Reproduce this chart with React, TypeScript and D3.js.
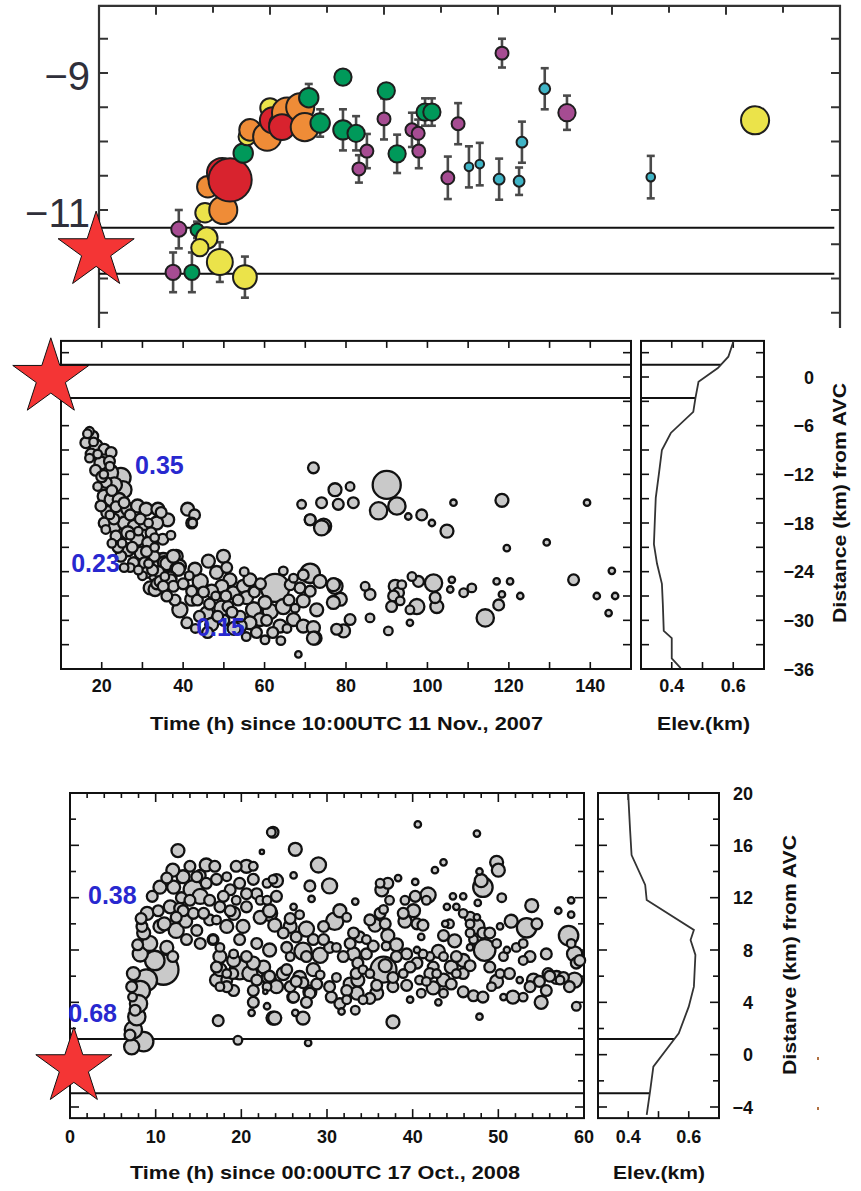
import React from "react";
import * as d3 from "d3";

const FONT = "'Liberation Sans', Arial, Helvetica, sans-serif";

// ---------------- Top panel (depth vs time, colored events) ----------------
const topTicksX = d3.range(1, 13);
const topTicksY = d3.range(-8.5, -12.51, -0.5);
const topLabelsY = [-9, -11];
const topRefLines = [-11.26, -11.93];
// [time unit, depth, size, error half-length, class]
const topEvents: [number, number, number, number, string][] = [
  [1.40, -11.28, 7, 0.28, "m"], [1.30, -11.91, 7, 0.29, "m"], [1.63, -11.91, 7, 0.29, "g"],
  [1.72, -11.29, 6, 0.12, "g"], [1.86, -11.04, 9, 0, "y"], [1.89, -11.41, 10, 0, "y"],
  [1.77, -11.55, 8, 0, "y"], [2.12, -11.76, 12, 0.29, "y"], [2.56, -11.98, 11, 0.3, "y"],
  [2.18, -11.0, 13, 0, "o"], [1.91, -10.66, 10, 0, "o"], [2.16, -10.46, 14, 0, "r"],
  [2.30, -10.56, 20, 0.05, "r"], [2.53, -10.17, 9, 0, "g"], [2.60, -9.93, 8, 0, "y"],
  [2.65, -9.83, 10, 0, "o"], [2.95, -9.93, 13, 0, "o"], [3.0, -9.51, 9, 0, "y"],
  [3.05, -9.69, 12, 0, "r"], [3.14, -9.73, 8, 0, "y"], [3.30, -9.58, 14, 0, "o"],
  [3.21, -9.79, 12, 0, "r"], [3.53, -9.50, 13, 0, "o"], [3.61, -9.79, 13, 0, "o"],
  [3.68, -9.36, 9, 0.2, "g"], [3.88, -9.73, 9, 0.2, "g"], [4.28, -9.06, 8, 0.1, "g"],
  [4.28, -9.83, 9, 0.3, "g"], [4.51, -9.88, 8, 0.25, "g"], [4.70, -10.14, 6, 0.25, "m"],
  [4.56, -10.40, 6, 0.2, "m"], [5.04, -9.26, 8, 0.05, "g"], [5.0, -9.67, 6, 0.3, "m"],
  [5.23, -10.18, 8, 0.28, "g"], [5.61, -10.14, 6, 0.25, "m"], [5.49, -9.83, 6, 0.25, "m"],
  [5.60, -9.88, 6, 0.2, "m"], [5.72, -9.57, 8, 0.2, "g"], [5.84, -9.57, 8, 0.2, "g"],
  [7.07, -8.71, 6, 0.21, "m"], [7.82, -9.23, 5, 0.30, "c"], [8.21, -9.58, 8, 0.25, "m"],
  [11.51, -9.69, 13, 0, "y"], [6.30, -9.74, 6, 0.30, "m"], [7.42, -10.01, 5, 0.30, "c"],
  [6.12, -10.53, 6, 0.31, "m"], [6.49, -10.37, 4, 0.30, "c"], [6.68, -10.33, 4, 0.31, "c"],
  [7.02, -10.55, 5, 0.30, "c"], [7.37, -10.58, 5, 0.20, "c"], [9.68, -10.52, 4, 0.31, "c"],
];
const topColors: Record<string, string> = {
  m: "#a64c92", g: "#00995a", y: "#ebe34a", o: "#ef8c37", r: "#d8232e", c: "#3fb4c6",
};

// ---------------- Middle panel (2007) ----------------
const midTicksX = d3.range(20, 141, 10);
const midLabelsX = d3.range(20, 141, 20);
const midTicksY = d3.range(3, -36, -3);
const midLabelsY = d3.range(0, -37, -6);
const midRefLines = [1.5, -2.6];
const midElevTicks = [0.4, 0.5, 0.6];
const midElevLabels = [0.4, 0.6];
const midVelLabels: [string, number, number][] = [["0.35", 28.2, -11.9], ["0.23", 12.5, -24.1], ["0.15", 43.2, -31.9]];
// [elevation km, distance km]
const midProfile: [number, number][] = [
  [0.6, 4.45], [0.6, 4.3], [0.584, 2.5], [0.55, 1.1], [0.487, -0.6], [0.477, -2.6], [0.47, -4.3],
  [0.397, -6.9], [0.368, -9], [0.358, -12], [0.348, -14.9], [0.345, -17.7], [0.342, -20.6],
  [0.352, -23], [0.368, -25.5], [0.371, -28], [0.374, -31.3], [0.4, -32.2], [0.4, -34.7], [0.429, -35.9],
];
// [time h, distance km, amplitude]
const midEvents: [number, number, number][] = [
  [17.0, -6.7, 4], [17.8, -7.3, 5], [16.1, -8.1, 5], [18.6, -8.5, 6], [17.4, -9.5, 5], [20.6, -8.9, 5],
  [22.3, -9.3, 5], [21.9, -10.4, 5], [19.8, -10.6, 6], [24.7, -12.4, 9], [21.9, -11.8, 8], [23.1, -13.3, 7],
  [25.2, -13.9, 8], [21.1, -13.0, 5], [20.6, -14.7, 6], [22.3, -15.1, 6], [24.3, -15.1, 6], [19.8, -15.9, 5],
  [21.5, -16.7, 6], [24.3, -16.7, 6], [26.4, -16.3, 6], [28.8, -15.9, 6], [30.9, -16.3, 6], [33.8, -16.3, 6],
  [36.2, -17.6, 6], [34.6, -16.7, 5], [20.6, -18.0, 5], [23.1, -18.4, 6], [25.6, -18.0, 6], [28.0, -18.4, 6],
  [30.5, -18.2, 5], [32.1, -19.2, 5], [26.4, -19.2, 6], [23.5, -19.6, 5], [28.8, -20.0, 6], [31.3, -20.4, 5],
  [26.4, -21.3, 6], [29.7, -21.7, 6], [24.7, -22.1, 5], [28.0, -22.9, 5], [30.5, -22.9, 5], [32.9, -22.1, 5],
  [35.4, -22.9, 6], [38.3, -22.1, 6], [39.1, -23.3, 6], [41.1, -16.3, 6], [42.8, -17.0, 5], [42.3, -18.0, 4],
  [22, -11, 4], [23, -17.5, 5], [27, -17, 5], [25, -20.5, 4], [27.5, -21, 5], [29, -19, 4], [31, -21.5, 5],
  [33, -21, 4], [34, -24, 5], [36, -23, 6], [37, -25, 5], [30, -24.5, 4], [27, -23.5, 4], [33.5, -25.5, 5],
  [31.9, -26, 6], [34.3, -25.2, 5], [31.0, -24.1, 5], [37.6, -22.1, 6], [38.4, -23.7, 6], [27.8, -22.9, 5],
  [33.5, -18.0, 6], [42.1, -18.0, 5], [74.5, -18.4, 7], [71.2, -17.6, 5], [32.3, -20.0, 6], [35.1, -22.9, 9],
  [38.8, -23.7, 6], [36.8, -24.8, 6], [33.1, -24.4, 6], [33.1, -26.2, 6], [37.6, -25.8, 5],
  [35.1, -25.8, 5], [42.9, -23.7, 6], [46.2, -22.7, 6], [49.9, -22.1, 6], [44.2, -25.2, 7], [42.1, -26.4, 5],
  [48.2, -24.1, 6], [50.7, -23.5, 5], [51.5, -25.0, 6], [49.5, -25.8, 6], [47.0, -26.4, 6], [42.1, -27.4, 6],
  [39.2, -28.7, 7], [40.9, -30.3, 5], [45.8, -29.1, 6], [49.5, -28.5, 7], [52.3, -26.6, 6], [54.8, -25.8, 6],
  [56.4, -25.0, 6], [55.6, -27.2, 6], [57.3, -28.7, 7], [58.9, -29.9, 6], [56.4, -30.3, 6], [60.1, -27.8, 6],
  [62.6, -26.0, 13], [61.4, -28.9, 7], [64.6, -28.3, 7], [64.6, -23.9, 4], [67.1, -24.8, 4], [66.3, -25.6, 5],
  [69.5, -24.4, 5], [71.2, -24.2, 9], [68.7, -26.0, 5], [71.2, -26.4, 5], [73.6, -25.2, 6], [76.9, -25.6, 6],
  [69.5, -27.6, 6], [72.8, -28.7, 6], [67.1, -29.9, 6], [69.5, -30.7, 6], [72.0, -30.9, 6], [72.4, -32.2, 6],
  [77.7, -31.1, 5], [60.1, -32.4, 4], [68.3, -34.2, 3], [63.8, -30.7, 6], [54.0, -30.7, 6],
  [44, -29.5, 5], [47, -30.5, 6], [50, -30, 5], [52.5, -31, 6], [54, -29.5, 5], [51, -28.3, 5],
  [72.0, -11.2, 5], [69.1, -15.7, 4], [74.0, -15.5, 5], [71.2, -17.6, 5], [74.0, -18.6, 7], [72.0, -32.2, 6],
  [77.3, -13.9, 6], [81.0, -13.5, 4], [78.1, -15.7, 5], [81.8, -15.5, 5], [90.0, -13.3, 13], [88.0, -16.5, 8],
  [92.5, -15.9, 8], [95.3, -17.2, 3], [98.6, -17.0, 5], [101.1, -18.0, 3], [104.8, -19.0, 6], [106.4, -15.5, 3],
  [118.3, -15.2, 6], [139.2, -15.5, 3], [129.3, -20.4, 3], [119.5, -21.1, 3], [77.3, -25.8, 7], [78.6, -27.4, 6],
  [76.9, -27.8, 6], [81.0, -29.9, 5], [79.4, -31.3, 6], [84.7, -25.8, 4], [85.9, -26.8, 5], [85.9, -29.7, 4],
  [90.4, -31.3, 4], [92.1, -25.8, 6], [92.9, -26.6, 5], [91.7, -27.0, 5], [93.7, -25.6, 4], [96.2, -24.6, 4],
  [97.8, -25.2, 5], [91.2, -28.3, 5], [93.3, -27.6, 4], [95.7, -28.7, 4], [97.4, -28.3, 7], [101.5, -25.4, 8],
  [101.9, -27.2, 5], [102.3, -28.3, 6], [95.7, -30.3, 3], [106.0, -25.0, 3], [105.6, -26.2, 3], [108.9, -26.6, 4],
  [110.9, -26.0, 4], [114.2, -29.7, 8], [117.0, -25.2, 3], [120.3, -25.2, 3], [117.5, -28.1, 5], [118.3, -26.8, 3],
  [122.8, -27.0, 3], [135.9, -25.0, 5], [145.3, -23.9, 3], [141.6, -27.0, 3], [146.1, -27.0, 3], [144.5, -29.1, 3],
  [16.5, -7.0, 4], [18.0, -8.0, 4], [19.0, -9.5, 4], [17.0, -10.0, 4], [18.5, -11.5, 5], [20.0, -12.3, 5],
  [19.0, -13.5, 4], [20.5, -12.0, 4], [22.5, -14.0, 5], [23.5, -16.0, 5], [25.5, -15.5, 5], [22.0, -17.0, 4],
  [21.0, -18.8, 4], [22.5, -20.5, 4], [24.0, -21.0, 5], [25.5, -23.5, 4], [27.0, -19.5, 4], [29.5, -17.5, 5],
  [31.5, -18.0, 4], [33.0, -19.8, 4], [35.0, -20.0, 5], [37.0, -19.5, 4], [29.0, -23.8, 4], [31.5, -23.0, 4],
  [35.5, -24.6, 4], [32.5, -23.8, 5], [40.0, -25.5, 5], [41.5, -24.5, 4], [43.5, -27.5, 5], [45.0, -26.5, 5],
  [46.5, -28.0, 5], [48.0, -27.0, 4], [50.5, -27.0, 5], [52.0, -29.0, 5], [53.5, -27.5, 5], [55.0, -24.0, 4],
  [57.5, -26.5, 5], [59.0, -25.5, 5], [60.5, -30.0, 5], [62.0, -31.5, 5], [64.0, -32.5, 4], [66.0, -27.5, 5],
  [67.5, -28.5, 4], [65.5, -31.0, 4], [58.0, -31.5, 5], [55.5, -32.0, 4], [48.5, -29.5, 5], [46.0, -31.5, 5],
  [43.0, -31.0, 4], [38.0, -27.5, 5], [36.0, -27.0, 5],
];

// ---------------- Bottom panel (2008) ----------------
const botTicksX = d3.range(2, 60, 2);
const botLabelsX = d3.range(0, 61, 10);
const botTicksY = d3.range(-4, 20, 2);
const botLabelsY = d3.range(20, -5, -4);
const botRefLines = [1.2, -2.95];
const botElevTicks = [0.4, 0.5, 0.6];
const botElevLabels = [0.4, 0.6];
const botVelLabels: [string, number, number][] = [["0.38", 2.1, 11.5], ["0.68", -0.2, 2.5]];
const botProfile: [number, number][] = [
  [0.4, 20], [0.4, 19.85], [0.406, 17.2], [0.411, 15.26], [0.456, 12.97], [0.461, 11.82], [0.617, 9.53],
  [0.606, 8.77], [0.622, 7.62], [0.617, 5.2], [0.6, 3.67], [0.567, 1.63], [0.55, 1.12], [0.483, -0.92],
  [0.472, -2.83], [0.461, -4.6],
];
const botEvents: [number, number, number][] = [
  [23.5, 17.0, 4], [12.6, 15.6, 6], [22.4, 15.5, 2],
  [7.2, 0.6, 7], [8.6, 1.0, 9], [7.4, 1.9, 8], [7.8, 2.9, 8], [8.0, 3.9, 8], [8.2, 4.9, 9], [8.9, 5.7, 10],
  [10.9, 6.5, 14], [9.9, 7.2, 9], [8.2, 7.7, 7], [7.4, 6.2, 6], [7.2, 5.2, 5], [8.6, 9.3, 6], [9.3, 8.5, 7],
  [11.3, 8.2, 6], [12.4, 9.5, 7], [10.5, 9.8, 6], [8.4, 9.8, 5], [9.0, 10.8, 6], [11.7, 11.3, 6], [10.3, 11.0, 5],
  [12.1, 12.8, 6], [13.2, 13.6, 6], [14.4, 12.6, 9], [15.2, 12.1, 7], [15.9, 14.5, 6], [15.2, 13.7, 5],
  [14.0, 14.4, 5], [16.9, 14.4, 5], [17.1, 13.4, 5], [18.7, 12.6, 5], [19.4, 14.4, 5], [20.6, 14.4, 6],
  [21.4, 13.4, 5], [21.8, 12.3, 5], [23.0, 13.1, 4], [23.7, 13.4, 4], [16.3, 11.8, 5], [17.5, 11.3, 5],
  [19.1, 10.8, 6], [20.6, 11.3, 5], [22.2, 10.5, 6], [23.3, 11.0, 6], [20.2, 9.8, 6], [18.3, 9.8, 6],
  [16.3, 10.3, 5], [14.4, 10.8, 5], [14.8, 9.5, 5], [13.6, 8.8, 5], [15.2, 8.5, 5], [16.7, 8.8, 5],
  [17.5, 7.5, 6], [19.1, 7.2, 6], [19.8, 6.5, 9], [21.0, 6.2, 7], [22.6, 6.7, 6], [23.3, 5.7, 6], [17.1, 5.7, 6],
  [18.3, 5.7, 5], [19.1, 4.9, 5], [21.4, 4.9, 5], [22.8, 4.8, 2], [17.3, 2.6, 5], [21.2, 3.2, 3], [23.0, 3.7, 3],
  [23.7, 2.8, 6], [19.6, 1.1, 4], [17.5, 8.2, 4],
  [17.5, 6.5, 6], [19.0, 6.2, 5], [21.4, 7.0, 6], [23.0, 5.9, 5], [25.3, 6.5, 5], [27.2, 5.5, 5], [28.0, 4.7, 5],
  [18.3, 5.2, 5], [21.4, 4.0, 5], [26.0, 4.4, 5],
  [7.0, 1.5, 5], [7.6, 3.4, 5], [7.3, 4.4, 4], [7.9, 8.4, 5], [8.3, 10.4, 5], [9.6, 12.1, 5], [10.5, 12.8, 6],
  [11.3, 13.5, 5], [12.0, 14.1, 6], [11.0, 10.0, 6], [12.8, 11.2, 5], [13.5, 10.2, 6], [12.0, 7.5, 5], [13.0, 12.0, 5],
  [23.7, 17.0, 5], [26.3, 15.7, 6], [29.0, 14.5, 7], [26.1, 13.7, 3], [24.1, 13.3, 6], [28.0, 12.9, 5],
  [30.3, 12.9, 7], [24.1, 12.1, 5], [28.2, 11.9, 3], [26.1, 11.3, 3], [23.3, 10.8, 7], [23.9, 9.9, 6],
  [25.7, 9.8, 6], [27.6, 9.6, 7], [29.6, 9.8, 5], [30.9, 10.2, 8], [31.5, 11.0, 6], [32.3, 10.5, 4],
  [23.3, 8.0, 6], [25.3, 8.2, 5], [27.2, 7.9, 8], [29.2, 7.6, 7], [30.3, 8.2, 5], [28.4, 8.8, 5], [26.4, 9.0, 5],
  [24.9, 6.2, 6], [26.8, 5.9, 6], [28.4, 6.5, 6], [28.8, 5.4, 5], [24.1, 5.2, 6], [25.7, 5.2, 5], [28.0, 4.8, 6],
  [26.1, 4.4, 5], [23.9, 2.8, 6], [27.2, 2.8, 6], [26.3, 3.2, 3], [27.8, 0.9, 3], [30.5, 4.4, 5], [31.5, 3.9, 5],
  [31.7, 3.3, 3], [33.3, 3.4, 4], [31.1, 5.9, 4], [32.7, 5.4, 6], [33.6, 5.7, 6], [33.5, 4.7, 6], [32.3, 4.9, 5],
  [34.2, 6.5, 4], [33.1, 7.7, 6], [34.6, 7.7, 5], [33.6, 7.0, 5], [32.7, 8.5, 5], [33.8, 9.0, 5], [35.0, 10.3, 5],
  [35.6, 9.9, 6], [36.2, 10.8, 5], [36.6, 11.1, 4], [36.8, 10.0, 5], [37.1, 9.1, 6], [38.1, 8.4, 6],
  [36.6, 6.5, 12], [36.8, 6.8, 6], [35.8, 5.3, 5], [37.7, 5.2, 5], [35.8, 4.7, 6], [37.7, 2.5, 6],
  [36.4, 12.6, 6], [37.1, 13.1, 5], [38.3, 13.5, 3], [33.3, 11.7, 3], [39.1, 11.8, 4], [40.3, 12.1, 5],
  [40.1, 11.0, 6], [39.1, 10.2, 6], [40.5, 10.0, 5], [41.2, 9.9, 5], [41.0, 9.0, 3], [41.8, 12.2, 7],
  [40.3, 13.2, 3], [40.6, 17.6, 3], [42.6, 14.1, 3], [43.6, 14.7, 3], [44.0, 11.3, 3], [44.7, 12.1, 3],
  [43.8, 10.0, 3], [43.6, 9.1, 5], [44.9, 8.7, 6], [45.9, 12.1, 3], [40.5, 8.0, 3], [39.3, 7.7, 5],
  [40.5, 7.0, 5], [42.0, 7.5, 4], [43.0, 7.9, 6], [42.4, 6.7, 5], [40.8, 5.7, 4], [39.3, 5.3, 5], [41.6, 5.6, 4],
  [42.8, 6.2, 4], [43.6, 5.7, 6], [42.4, 5.1, 6], [41.0, 4.7, 4], [39.7, 4.2, 3], [43.0, 4.0, 3], [44.5, 6.7, 6],
  [45.9, 7.2, 6], [45.9, 6.2, 5], [46.7, 6.8, 5], [44.5, 5.4, 5], [45.9, 4.8, 5], [47.1, 4.5, 5], [48.2, 4.4, 5],
  [47.8, 2.9, 3], [47.5, 16.9, 3], [48.2, 12.8, 9], [48.0, 13.3, 6], [49.8, 14.7, 6], [50.0, 14.1, 6],
  [47.8, 14.0, 3], [47.6, 11.6, 3], [46.7, 10.5, 5], [47.5, 9.8, 7], [48.2, 9.3, 5], [46.7, 8.2, 3],
  [48.4, 8.0, 10], [49.0, 6.7, 5], [50.2, 9.8, 3], [50.4, 12.0, 4], [49.8, 5.6, 6], [50.2, 6.2, 4],
  [49.2, 5.2, 4], [50.6, 4.4, 3], [51.0, 8.0, 3], [51.5, 10.2, 6], [51.7, 4.4, 6], [52.5, 5.7, 3], [52.1, 8.2, 4],
  [53.3, 9.7, 9], [53.9, 11.4, 6], [54.5, 10.0, 5], [53.7, 7.5, 5], [54.1, 5.7, 6], [54.8, 5.6, 5], [55.6, 7.7, 5],
  [55.8, 6.2, 5], [55.6, 4.9, 5], [55.0, 4.0, 6], [56.8, 5.9, 6], [57.6, 5.9, 5], [57.0, 11.0, 3], [58.2, 9.1, 9],
  [58.5, 10.7, 3], [58.5, 11.8, 3], [58.9, 7.7, 7], [58.9, 5.7, 7], [59.1, 7.0, 5], [59.1, 3.7, 4],
  [25.7, 10.4, 5], [26.8, 10.7, 4], [24.9, 9.3, 5], [27.6, 7.5, 5], [29.6, 8.8, 5], [25.7, 7.5, 4], [23.3, 6.0, 5],
  [26.4, 5.6, 5], [29.2, 6.1, 4], [27.6, 4.0, 5], [30.3, 5.2, 5], [32.3, 4.2, 4], [33.4, 6.2, 5], [34.6, 8.8, 4],
  [33.1, 9.3, 5], [31.9, 7.5, 5], [31.1, 8.2, 4], [35.4, 8.3, 5], [36.9, 8.3, 4], [38.1, 7.5, 5], [38.9, 6.2, 4],
  [37.7, 5.9, 5], [35.0, 6.2, 4], [35.0, 4.3, 5], [34.2, 4.2, 4], [39.7, 6.7, 5], [41.2, 7.7, 4], [42.0, 6.2, 5],
  [43.6, 7.5, 4], [45.1, 7.5, 5], [43.6, 4.7, 4], [45.1, 6.2, 4], [46.7, 10.0, 4], [47.5, 10.5, 3], [47.1, 8.8, 4],
  [49.0, 9.3, 5], [49.8, 8.5, 4], [50.6, 7.5, 4], [51.3, 6.2, 5], [52.9, 8.5, 4], [52.9, 7.2, 4], [53.7, 5.2, 5],
  [52.9, 4.4, 4], [56.0, 6.0, 5], [57.2, 5.7, 4], [58.3, 5.2, 5], [58.5, 8.5, 4], [59.5, 7.2, 5], [41.6, 11.8, 4],
  [38.9, 10.8, 5], [37.3, 11.8, 4], [36.2, 13.1, 4], [45.1, 11.3, 3], [45.9, 10.8, 4], [44.3, 10.0, 4], [46.7, 9.3, 4],
  [14.0, 11.8, 5], [13.2, 11.0, 5], [12.4, 10.5, 5], [15.6, 10.8, 5], [17.1, 10.3, 4], [18.7, 11.0, 5],
  [19.4, 11.8, 4], [20.6, 12.3, 5], [22.2, 11.8, 4], [17.9, 12.1, 5], [15.9, 13.1, 5], [14.8, 13.6, 5],
  [18.3, 13.6, 4], [19.8, 13.1, 5], [21.4, 14.4, 4], [23.0, 11.8, 4], [16.7, 8.8, 4], [19.8, 8.8, 5],
  [21.8, 8.5, 5], [19.1, 7.7, 4], [20.6, 7.5, 5], [17.1, 6.7, 5], [18.3, 6.2, 4], [21.8, 5.7, 5], [23.0, 5.2, 4],
  [17.5, 5.2, 4],
];

const scatterFill = "#c9c9c9";
const scatterStroke = "#111";
const velColor = "#2828cf";

function starPath(cx: number, cy: number, R: number) {
  const r = R * 0.382;
  const pts: string[] = [];
  for (let i = 0; i < 10; i++) {
    const a = (Math.PI / 5) * i;
    const rr = i % 2 === 0 ? R : r;
    pts.push(`${cx + rr * Math.sin(a)},${cy - rr * Math.cos(a)}`);
  }
  return "M" + pts.join("L") + "Z";
}

function elevAt(profile: [number, number][], d: number) {
  for (let i = 0; i < profile.length - 1; i++) {
    const [e0, d0] = profile[i];
    const [e1, d1] = profile[i + 1];
    if ((d <= d0 && d >= d1) || (d >= d0 && d <= d1)) {
      const t = d0 === d1 ? 0 : (d - d0) / (d1 - d0);
      return e0 + t * (e1 - e0);
    }
  }
  return profile[profile.length - 1][0];
}

export default function App() {
  const txS = d3.scaleLinear().domain([0, 13]).range([99, 840]);
  const tyS = d3.scaleLinear().domain([-9, -11]).range([73, 210]);
  const mxS = d3.scaleLinear().domain([10, 150]).range([61, 631]);
  const myS = d3.scaleLinear().domain([0, -36]).range([377, 669]);
  const meS = d3.scaleLinear().domain([0.3, 0.7]).range([641, 764]);
  const bxS = d3.scaleLinear().domain([0, 60]).range([70, 584]);
  const byS = d3.scaleLinear().domain([20, -4]).range([793, 1107]);
  const beS = d3.scaleLinear().domain([0.3, 0.7]).range([598, 719]);
  const rS = d3.scaleLinear().domain([0, 10]).range([0, 10.8]);
  const rTop = d3.scaleLinear().domain([0, 10]).range([0, 10.8]);

  const topTop = tyS(-8.02);
  const topBottom = 328;
  const midTop = myS(4.45), midBot = myS(-36);
  const botTop = byS(20), botBot = byS(-4.85);

  const lineGen = (xs: d3.ScaleLinear<number, number>, ys: d3.ScaleLinear<number, number>) =>
    d3.line<[number, number]>().x((p) => xs(p[0])).y((p) => ys(p[1]));

  const midSorted = [...midEvents].sort((a, b) => b[2] - a[2]);
  const botSorted = [...botEvents].sort((a, b) => b[2] - a[2]);

  const tickStyle = { stroke: "#111", strokeWidth: 1.6 };
  const frameStyle = { fill: "none", stroke: "#111", strokeWidth: 2 };
  const labelStyle: React.CSSProperties = { fontFamily: FONT, fontWeight: 700, fontSize: 18, fill: "#111" };
  const titleStyle: React.CSSProperties = { fontFamily: FONT, fontWeight: 700, fontSize: 19, fill: "#111" };
  const velStyle: React.CSSProperties = { fontFamily: FONT, fontWeight: 700, fontSize: 25, fill: velColor };

  return (
    <svg width={861} height={1191} style={{ position: "absolute", left: 0, top: 0, background: "#fff" }}>
      <rect x={0} y={0} width={861} height={1191} fill="#fff" />

      {/* ================= TOP PANEL ================= */}
      <g>
        <path d={`M${txS(0)},${topBottom}V${topTop}H${txS(13)}V${topBottom}`} fill="none" stroke="#333" strokeWidth={2.2} />
        {topTicksX.map((v) => (
          <line key={"ttx" + v} x1={txS(v)} x2={txS(v)} y1={topTop} y2={topTop + (v % 2 === 1 ? 9 : 7)} stroke="#333" strokeWidth={2} />
        ))}
        {topTicksY.map((v) => (
          <g key={"tty" + v}>
            <line x1={txS(0)} x2={txS(0) + 9} y1={tyS(v)} y2={tyS(v)} stroke="#333" strokeWidth={2} />
            <line x1={txS(13)} x2={txS(13) - 9} y1={tyS(v)} y2={tyS(v)} stroke="#333" strokeWidth={2} />
          </g>
        ))}
        {topLabelsY.map((v) => (
          <text key={"tly" + v} x={90} y={tyS(v) + 17} textAnchor="end" style={{ fontFamily: FONT, fontSize: 40, fill: "#2f2f3a" }}>
            {"\u2212" + Math.abs(v)}
          </text>
        ))}
        {topRefLines.map((v) => (
          <line key={"trl" + v} x1={txS(0)} x2={txS(12.9)} y1={tyS(v)} y2={tyS(v)} stroke="#111" strokeWidth={2} />
        ))}
        {topEvents.filter((e) => e[3] > 0).map((e, i) => {
          const x = txS(e[0]);
          const y0 = tyS(e[1] + e[3]);
          const y1 = tyS(e[1] - e[3]);
          return (
            <g key={"teb" + i} stroke="#4a4a4a" strokeWidth={2.6}>
              <line x1={x} x2={x} y1={y0} y2={y1} />
              <line x1={x - 4} x2={x + 4} y1={y0} y2={y0} />
              <line x1={x - 4} x2={x + 4} y1={y1} y2={y1} />
            </g>
          );
        })}
        {topEvents.map((e, i) => (
          <circle key={"tev" + i} cx={txS(e[0])} cy={tyS(e[1])} r={rTop(e[2])} fill={topColors[e[4]]} stroke="#1e1e1e" strokeWidth={2} />
        ))}
        <path d={starPath(txS(-0.05), tyS(-11.6), 40)} fill="#f43535" stroke="#111" strokeWidth={1} />
      </g>

      {/* ================= MIDDLE PANEL ================= */}
      <g>
        <rect x={0} y={329} width={861} height={440} fill="#fff" />
        <rect x={mxS(10)} y={midTop} width={mxS(150) - mxS(10)} height={midBot - midTop} {...frameStyle} />
        {midTicksX.map((v) => (
          <g key={"mtx" + v}>
            <line x1={mxS(v)} x2={mxS(v)} y1={midBot} y2={midBot - 7} {...tickStyle} />
            <line x1={mxS(v)} x2={mxS(v)} y1={midTop} y2={midTop + 7} {...tickStyle} />
          </g>
        ))}
        {midTicksY.map((v) => (
          <g key={"mty" + v}>
            <line x1={mxS(10)} x2={mxS(10) + 8} y1={myS(v)} y2={myS(v)} {...tickStyle} />
            <line x1={mxS(150)} x2={mxS(150) - 8} y1={myS(v)} y2={myS(v)} {...tickStyle} />
            <line x1={meS(0.3)} x2={meS(0.3) + 8} y1={myS(v)} y2={myS(v)} {...tickStyle} />
            <line x1={meS(0.7)} x2={meS(0.7) - 8} y1={myS(v)} y2={myS(v)} {...tickStyle} />
          </g>
        ))}
        {midLabelsX.map((v) => (
          <text key={"mlx" + v} x={mxS(v)} y={692} textAnchor="middle" style={labelStyle}>{v}</text>
        ))}
        {midRefLines.map((v) => (
          <g key={"mrl" + v}>
            <line x1={mxS(10)} x2={mxS(150)} y1={myS(v)} y2={myS(v)} stroke="#111" strokeWidth={2} />
            <line x1={meS(0.3)} x2={meS(elevAt(midProfile, v))} y1={myS(v)} y2={myS(v)} stroke="#111" strokeWidth={2} />
          </g>
        ))}
        {midSorted.map((e, i) => (
          <circle key={"mev" + i} cx={mxS(e[0])} cy={myS(e[1])} r={rS(e[2])} fill={scatterFill} stroke={scatterStroke} strokeWidth={2.3} />
        ))}
        {midVelLabels.map(([s, t, d]) => (
          <text key={"mvl" + s} x={mxS(t)} y={myS(d)} style={velStyle}>{s}</text>
        ))}
        <rect x={meS(0.3)} y={midTop} width={meS(0.7) - meS(0.3)} height={midBot - midTop} {...frameStyle} />
        {midElevTicks.map((v) => (
          <g key={"met" + v}>
            <line x1={meS(v)} x2={meS(v)} y1={midBot} y2={midBot - 7} {...tickStyle} />
            <line x1={meS(v)} x2={meS(v)} y1={midTop} y2={midTop + 7} {...tickStyle} />
          </g>
        ))}
        {midElevLabels.map((v) => (
          <text key={"mel" + v} x={meS(v)} y={692} textAnchor="middle" style={labelStyle}>{v}</text>
        ))}
        <path d={lineGen(meS, myS)(midProfile) || ""} fill="none" stroke="#333" strokeWidth={1.8} />
        {midLabelsY.map((v) => (
          <text key={"mly" + v} x={814} y={myS(v) + 6.5} textAnchor="end" style={labelStyle}>
            {v === 0 ? "0" : "\u2212" + Math.abs(v)}
          </text>
        ))}
        <text x={150} y={730} textLength={393} lengthAdjust="spacingAndGlyphs" style={titleStyle}>
          Time (h) since 10:00UTC 11 Nov., 2007
        </text>
        <text x={657} y={730} textLength={93} lengthAdjust="spacingAndGlyphs" style={titleStyle}>Elev.(km)</text>
        <text transform="translate(846,503) rotate(-90)" x={-120} y={0} textLength={240} lengthAdjust="spacingAndGlyphs" style={titleStyle}>
          Distance (km) from AVC
        </text>
        <path d={starPath(mxS(7.5), myS(-0.1), 40)} fill="#f43535" stroke="#111" strokeWidth={1} />
      </g>

      {/* ================= BOTTOM PANEL ================= */}
      <g>
        <rect x={bxS(0)} y={botTop} width={bxS(60) - bxS(0)} height={botBot - botTop} {...frameStyle} />
        {botTicksX.map((v) => {
          const len = v % 10 === 0 ? 9 : 5;
          return (
            <g key={"btx" + v}>
              <line x1={bxS(v)} x2={bxS(v)} y1={botBot} y2={botBot - len} {...tickStyle} />
              <line x1={bxS(v)} x2={bxS(v)} y1={botTop} y2={botTop + len} {...tickStyle} />
            </g>
          );
        })}
        {botTicksY.map((v) => {
          const len = v % 4 === 0 ? 9 : 6;
          return (
            <g key={"bty" + v}>
              <line x1={bxS(0)} x2={bxS(0) + len} y1={byS(v)} y2={byS(v)} {...tickStyle} />
              <line x1={bxS(60)} x2={bxS(60) - len} y1={byS(v)} y2={byS(v)} {...tickStyle} />
              <line x1={beS(0.3)} x2={beS(0.3) + len} y1={byS(v)} y2={byS(v)} {...tickStyle} />
              <line x1={beS(0.7)} x2={beS(0.7) - len} y1={byS(v)} y2={byS(v)} {...tickStyle} />
            </g>
          );
        })}
        {botLabelsX.map((v) => (
          <text key={"blx" + v} x={bxS(v)} y={1143} textAnchor="middle" style={labelStyle}>{v}</text>
        ))}
        {botRefLines.map((v) => (
          <g key={"brl" + v}>
            <line x1={bxS(0)} x2={bxS(60)} y1={byS(v)} y2={byS(v)} stroke="#111" strokeWidth={2} />
            <line x1={beS(0.3)} x2={beS(elevAt(botProfile, v))} y1={byS(v)} y2={byS(v)} stroke="#111" strokeWidth={2} />
          </g>
        ))}
        {botSorted.map((e, i) => (
          <circle key={"bev" + i} cx={bxS(e[0])} cy={byS(e[1])} r={rS(e[2])} fill={scatterFill} stroke={scatterStroke} strokeWidth={2.3} />
        ))}
        {botVelLabels.map(([s, t, d]) => (
          <text key={"bvl" + s} x={bxS(t)} y={byS(d)} style={velStyle}>{s}</text>
        ))}
        <rect x={beS(0.3)} y={botTop} width={beS(0.7) - beS(0.3)} height={botBot - botTop} {...frameStyle} />
        {botElevTicks.map((v) => (
          <g key={"bet" + v}>
            <line x1={beS(v)} x2={beS(v)} y1={botBot} y2={botBot - 7} {...tickStyle} />
            <line x1={beS(v)} x2={beS(v)} y1={botTop} y2={botTop + 7} {...tickStyle} />
          </g>
        ))}
        {botElevLabels.map((v) => (
          <text key={"bel" + v} x={beS(v)} y={1143} textAnchor="middle" style={labelStyle}>{v}</text>
        ))}
        <path d={lineGen(beS, byS)(botProfile) || ""} fill="none" stroke="#333" strokeWidth={1.8} />
        {botLabelsY.map((v) => (
          <text key={"bly" + v} x={753} y={byS(v) + 6.5} textAnchor="end" style={labelStyle}>
            {v < 0 ? "\u2212" + Math.abs(v) : String(v)}
          </text>
        ))}
        <text x={130} y={1179} textLength={390} lengthAdjust="spacingAndGlyphs" style={titleStyle}>
          Time (h) since 00:00UTC 17 Oct., 2008
        </text>
        <text x={613} y={1179} textLength={92} lengthAdjust="spacingAndGlyphs" style={titleStyle}>Elev.(km)</text>
        <text transform="translate(796,955) rotate(-90)" x={-120} y={0} textLength={240} lengthAdjust="spacingAndGlyphs" style={titleStyle}>
          Distanve (km) from AVC
        </text>
        <rect x={817} y={1057} width={2} height={3} fill="#b07040" />
        <rect x={817} y={1107} width={2} height={3} fill="#b07040" />
        <path d={starPath(bxS(0.45), byS(-0.95), 40)} fill="#f43535" stroke="#111" strokeWidth={1} />
      </g>
    </svg>
  );
}
